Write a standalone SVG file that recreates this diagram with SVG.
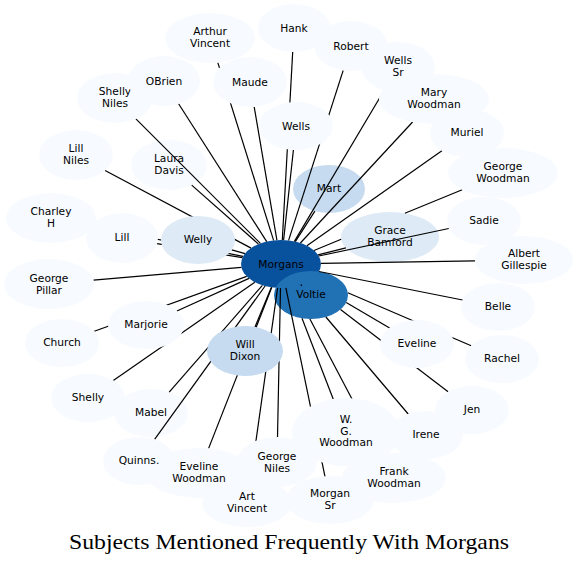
<svg xmlns="http://www.w3.org/2000/svg" width="578" height="565" viewBox="0 0 578 565">
<style>
.n0{fill:#f7fbff}.n1{fill:#deebf7}.n2{fill:#c6dbef}.n3{fill:#2171b5}.n4{fill:#08519c}
text{font-family:"DejaVu Sans",Verdana,sans-serif;font-size:10.67px;fill:#000;text-anchor:middle}
#edges path{stroke:#000;stroke-width:1.2;fill:none}
text.title{font-family:"Liberation Serif","Times New Roman",serif;font-size:22px}
</style>
<rect width="578" height="565" fill="#fff"/>
<g id="nodes-lower">
<g id="node-morgans"><ellipse class="n4" cx="281" cy="264" rx="40" ry="24"/><text x="281" y="267.8">Morgans</text></g>
<g id="node-laura-davis"><ellipse class="n0" cx="169" cy="165" rx="38" ry="25"/><text x="169" y="162.4">Laura</text><text x="169" y="174.4">Davis</text></g>
<g id="node-mart"><ellipse class="n2" cx="329" cy="189" rx="36" ry="24"/><text x="329" y="192.3">Mart</text></g>
<g id="node-grace-bamford"><ellipse class="n1" cx="390" cy="237" rx="49" ry="25"/><text x="390" y="233.6">Grace</text><text x="390" y="245.6">Bamford</text></g>
<g id="node-voltie"><ellipse class="n3" cx="311" cy="295" rx="37" ry="24"/><text x="311" y="298">Voltie</text></g>
<g id="node-mabel"><ellipse class="n0" cx="151" cy="413" rx="37" ry="24"/><text x="151" y="416.2">Mabel</text></g>
</g>
<g id="edges">
<path d="M282.3,240 L292.7,52"/>
<path d="M273.6,240.4 L217.8,62.6"/>
<path d="M288.6,240.4 L343.2,70.4"/>
<path d="M294.4,241.4 L384.2,90.2"/>
<path d="M266.7,241.6 L178.6,103.8"/>
<path d="M276.9,240.1 L254.2,106.8"/>
<path d="M260.4,243.4 L135.9,118.9"/>
<path d="M300.4,243 L412.6,122"/>
<path d="M283.6,240.1 L293.4,150"/>
<path d="M306.9,245.7 L441.9,150.7"/>
<path d="M251.1,248.1 L105.1,170.5"/>
<path d="M258.5,244.1 L191.7,185.1"/>
<path d="M314,250.5 L341.2,239.3 M404.9,213.2 L462.2,189.7"/>
<path d="M295.3,241.6 L314.9,211.1"/>
<path d="M243,256.4 L93.3,226.5"/>
<path d="M318.7,256 L448.8,228.5"/>
<path d="M242.4,257.7 L157,243.7"/>
<path d="M245,253.6 L231.8,249.8"/>
<path d="M318,254.8 L345.9,247.9"/>
<path d="M321,263.3 L475,260.8"/>
<path d="M241.4,267.4 L93.5,280.2"/>
<path d="M300.9,284.5 L301.7,286"/>
<path d="M319,271.5 L462.6,300"/>
<path d="M249,278.4 L176.9,311"/>
<path d="M246.7,276.4 L94.3,331.3"/>
<path d="M346.2,302.4 L389.6,327.9"/>
<path d="M271.4,287.3 L255,326.9"/>
<path d="M347.8,292.7 L471.2,345.7"/>
<path d="M254.8,282.2 L113.3,380.5"/>
<path d="M340.5,309.5 L448.1,391.7"/>
<path d="M262.4,285.3 L169.2,392.1"/>
<path d="M302,318.3 L333.2,399"/>
<path d="M325.9,317 L408.2,414"/>
<path d="M265.1,286 L154.6,439.4"/>
<path d="M280.5,288 L277.5,437"/>
<path d="M271.8,287.4 L208.6,448.4"/>
<path d="M309.9,319 L381.3,454.8"/>
<path d="M285.9,287.8 L325.1,477.2"/>
<path d="M277.6,287.9 L250.4,480.1"/>
</g>
<g id="nodes-upper">
<g id="node-hank"><ellipse class="n0" cx="294" cy="28" rx="36" ry="24"/><text x="294" y="31.8">Hank</text></g>
<g id="node-arthur-vincent"><ellipse class="n0" cx="210" cy="38" rx="45" ry="25"/><text x="210" y="35.4">Arthur</text><text x="210" y="47.4">Vincent</text></g>
<g id="node-robert"><ellipse class="n0" cx="351" cy="46" rx="37" ry="25"/><text x="351" y="49.6">Robert</text></g>
<g id="node-wells-sr"><ellipse class="n0" cx="398" cy="67" rx="37" ry="25"/><text x="398" y="64">Wells</text><text x="398" y="76">Sr</text></g>
<g id="node-shelly-niles"><ellipse class="n0" cx="115" cy="98" rx="38" ry="25"/><text x="115" y="94.6">Shelly</text><text x="115" y="106.6">Niles</text></g>
<g id="node-obrien"><ellipse class="n0" cx="164" cy="81" rx="36" ry="25"/><text x="164" y="84.5">OBrien</text></g>
<g id="node-maude"><ellipse class="n0" cx="250" cy="82" rx="37" ry="25"/><text x="250" y="85.5">Maude</text></g>
<g id="node-mary-woodman"><ellipse class="n0" cx="434" cy="99" rx="55" ry="25"/><text x="434" y="96.3">Mary</text><text x="434" y="108.3">Woodman</text></g>
<g id="node-wells"><ellipse class="n0" cx="296" cy="126" rx="37" ry="24"/><text x="296" y="129.8">Wells</text></g>
<g id="node-muriel"><ellipse class="n0" cx="467" cy="133" rx="37" ry="24"/><text x="467" y="136.1">Muriel</text></g>
<g id="node-lill-niles"><ellipse class="n0" cx="76" cy="155" rx="37" ry="25"/><text x="76" y="151.6">Lill</text><text x="76" y="163.6">Niles</text></g>
<g id="node-george-woodman"><ellipse class="n0" cx="503" cy="173" rx="55" ry="25"/><text x="503" y="170.1">George</text><text x="503" y="182.1">Woodman</text></g>
<g id="node-charley-h"><ellipse class="n0" cx="51" cy="218" rx="45" ry="25"/><text x="51" y="214.6">Charley</text><text x="51" y="226.6">H</text></g>
<g id="node-sadie"><ellipse class="n0" cx="484" cy="221" rx="37" ry="24"/><text x="484" y="223.8">Sadie</text></g>
<g id="node-lill"><ellipse class="n0" cx="122" cy="238" rx="36" ry="25"/><text x="122" y="241.1">Lill</text></g>
<g id="node-welly"><ellipse class="n1" cx="198" cy="240" rx="37" ry="24"/><text x="198" y="242.8">Welly</text></g>
<g id="node-albert-gillespie"><ellipse class="n0" cx="524" cy="260" rx="49" ry="24"/><text x="524" y="256.5">Albert</text><text x="524" y="268.5">Gillespie</text></g>
<g id="node-george-pillar"><ellipse class="n0" cx="49" cy="284" rx="45" ry="25"/><text x="49" y="281.5">George</text><text x="49" y="293.5">Pillar</text></g>
<g id="node-belle"><ellipse class="n0" cx="498" cy="307" rx="37" ry="24"/><text x="498" y="309.5">Belle</text></g>
<g id="node-marjorie"><ellipse class="n0" cx="146" cy="325" rx="38" ry="24"/><text x="146" y="327.8">Marjorie</text></g>
<g id="node-church"><ellipse class="n0" cx="62" cy="343" rx="37" ry="24"/><text x="62" y="346.1">Church</text></g>
<g id="node-eveline"><ellipse class="n0" cx="417" cy="344" rx="37" ry="24"/><text x="417" y="347.1">Eveline</text></g>
<g id="node-will-dixon"><ellipse class="n2" cx="245" cy="351" rx="38" ry="25"/><text x="245" y="348.4">Will</text><text x="245" y="360.4">Dixon</text></g>
<g id="node-rachel"><ellipse class="n0" cx="502" cy="359" rx="37" ry="24"/><text x="502" y="362.1">Rachel</text></g>
<g id="node-shelly"><ellipse class="n0" cx="88" cy="398" rx="37" ry="24"/><text x="88" y="401.1">Shelly</text></g>
<g id="node-jen"><ellipse class="n0" cx="472" cy="410" rx="37" ry="24"/><text x="472" y="413.1">Jen</text></g>
<g id="node-irene"><ellipse class="n0" cx="426" cy="435" rx="37" ry="24"/><text x="426" y="437.8">Irene</text></g>
<g id="node-wg-woodman"><ellipse class="n0" cx="346" cy="432" rx="54" ry="34"/><text x="346" y="422.7">W.</text><text x="346" y="434.5">G.</text><text x="346" y="446.3">Woodman</text></g>
<g id="node-george-niles"><ellipse class="n0" cx="277" cy="462" rx="40" ry="25"/><text x="277" y="459.8">George</text><text x="277" y="471.8">Niles</text></g>
<g id="node-eveline-woodman"><ellipse class="n0" cx="199" cy="473" rx="53" ry="25"/><text x="199" y="469.8">Eveline</text><text x="199" y="481.8">Woodman</text></g>
<g id="node-quinns"><ellipse class="n0" cx="139" cy="461" rx="36" ry="24"/><text x="139" y="463.8">Quinns.</text></g>
<g id="node-frank-woodman"><ellipse class="n0" cx="394" cy="478" rx="52" ry="25"/><text x="394" y="475.4">Frank</text><text x="394" y="487.4">Woodman</text></g>
<g id="node-morgan-sr"><ellipse class="n0" cx="330" cy="500" rx="44" ry="24"/><text x="330" y="497.4">Morgan</text><text x="330" y="509.4">Sr</text></g>
<g id="node-art-vincent"><ellipse class="n0" cx="247" cy="503" rx="45" ry="24"/><text x="247" y="500.4">Art</text><text x="247" y="512.4">Vincent</text></g>
</g>
<text class="title" x="289" y="549" textLength="440" lengthAdjust="spacingAndGlyphs">Subjects Mentioned Frequently With Morgans</text>
</svg>
